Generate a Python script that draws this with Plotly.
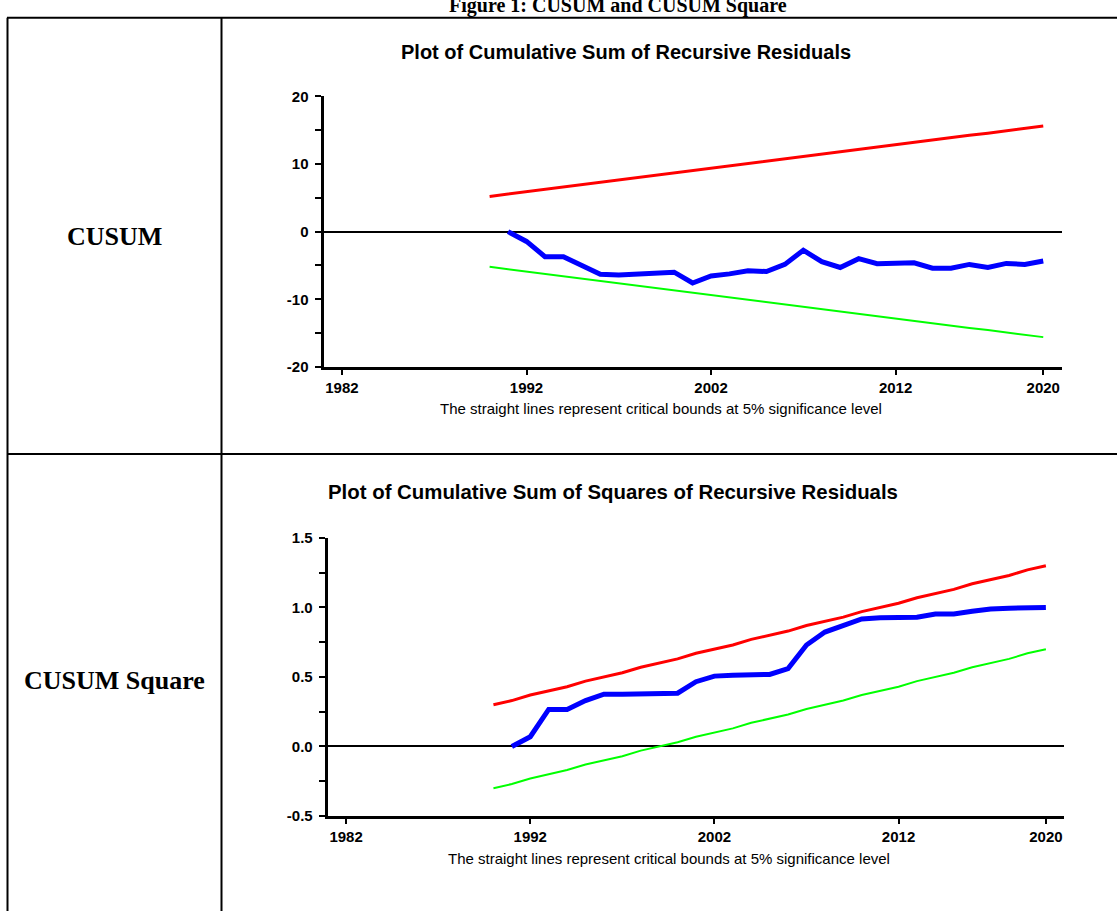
import plotly.graph_objects as go

# ---------------- data ----------------
rec_years = list(range(1991, 2021))
bound_years = list(range(1990, 2021))

cusum = [0.0, -1.45, -3.7, -3.7, -5.0, -6.3, -6.4, -6.25, -6.0, -6.0,
         -7.6, -6.55, -6.25, -5.8, -5.9, -4.85, -2.75, -4.45, -5.3, -4.0,
         -4.75, -4.6, -4.6, -5.4, -5.4, -4.85, -5.3, -4.7, -4.85, -4.35]
cusum_upper = [5.2, 5.55, 5.9, 6.25, 6.6, 6.9, 7.25, 7.6, 7.95, 8.3, 8.65,
               9.0, 9.35, 9.7, 10.05, 10.4, 10.75, 11.1, 11.45, 11.8, 12.15,
               12.5, 12.85, 13.2, 13.55, 13.9, 14.25, 14.55, 14.9, 15.25, 15.6]
cusum_lower = [-5.2, -5.55, -5.9, -6.25, -6.6, -6.9, -7.25, -7.6, -7.95, -8.3, -8.65,
               -9.0, -9.35, -9.7, -10.05, -10.4, -10.75, -11.1, -11.45, -11.8, -12.15,
               -12.5, -12.85, -13.2, -13.55, -13.9, -14.25, -14.55, -14.9, -15.25, -15.6]

cusumsq = [0.0, 0.07, 0.266, 0.266, 0.33, 0.376, 0.376, 0.376, 0.383, 0.383,
           0.466, 0.506, 0.513, 0.518, 0.518, 0.56, 0.73, 0.823, 0.866, 0.917,
           0.925, 0.929, 0.929, 0.953, 0.953, 0.972, 0.988, 0.995, 0.995, 1.0]
sq_upper = [0.30, 0.33, 0.37, 0.40, 0.43, 0.47, 0.50, 0.53, 0.57, 0.60, 0.63,
            0.67, 0.70, 0.73, 0.77, 0.80, 0.83, 0.87, 0.90, 0.93, 0.97,
            1.00, 1.03, 1.07, 1.10, 1.13, 1.17, 1.20, 1.23, 1.27, 1.30]
sq_lower = [-0.30, -0.27, -0.23, -0.20, -0.17, -0.13, -0.10, -0.07, -0.03, 0.00, 0.03,
            0.07, 0.10, 0.13, 0.17, 0.20, 0.23, 0.27, 0.30, 0.33, 0.37,
            0.40, 0.43, 0.47, 0.50, 0.53, 0.57, 0.60, 0.63, 0.67, 0.70]

x_ticks = [1982, 1992, 2002, 2012, 2020]
cusum_ticks = [-20, -10, 0, 10, 20]
sq_ticks = [-0.5, 0.0, 0.5, 1.0, 1.5]
sq_tick_text = ["-0.5", "0.0", "0.5", "1.0", "1.5"]

fig_title = "Figure 1: CUSUM and CUSUM Square"
row_labels = ["CUSUM", "CUSUM Square"]
chart_titles = ["Plot of Cumulative Sum of Recursive Residuals",
                "Plot of Cumulative Sum of Squares of Recursive Residuals"]
footnote = "The straight lines represent critical bounds at 5% significance level"

# ---------------- layout helpers ----------------
W, H = 1117, 911
def px(x):
    return x / W
def py(y):
    return 1 - y / H

SANS = "Liberation Sans, Arial, sans-serif"
SERIF = "Liberation Serif, Times New Roman, serif"

fig = go.Figure()

RED, GREEN, BLUE = "#FF0000", "#00FF00", "#0000FF"

fig.add_trace(go.Scatter(x=bound_years, y=cusum_upper, mode="lines",
                         line=dict(color=RED, width=3), xaxis="x", yaxis="y", showlegend=False))
fig.add_trace(go.Scatter(x=bound_years, y=cusum_lower, mode="lines",
                         line=dict(color=GREEN, width=2), xaxis="x", yaxis="y", showlegend=False))
fig.add_trace(go.Scatter(x=rec_years, y=cusum, mode="lines",
                         line=dict(color=BLUE, width=5), xaxis="x", yaxis="y", showlegend=False))

fig.add_trace(go.Scatter(x=bound_years, y=sq_upper, mode="lines",
                         line=dict(color=RED, width=3), xaxis="x2", yaxis="y2", showlegend=False))
fig.add_trace(go.Scatter(x=bound_years, y=sq_lower, mode="lines",
                         line=dict(color=GREEN, width=2), xaxis="x2", yaxis="y2", showlegend=False))
fig.add_trace(go.Scatter(x=rec_years, y=cusumsq, mode="lines",
                         line=dict(color=BLUE, width=5), xaxis="x2", yaxis="y2", showlegend=False))

tickfont = dict(family=SANS, size=15, color="black", weight="bold")

def xaxis(domain, anchor):
    return dict(domain=domain, anchor=anchor, range=[1981, 2021],
                showgrid=False, zeroline=False, showline=True, linecolor="black",
                linewidth=3, ticks="outside", ticklen=5, tickwidth=2, tickcolor="black",
                tickvals=x_ticks, tickfont=tickfont)

def yaxis(domain, anchor, rng, tv, tt, minor_dtick):
    return dict(domain=domain, anchor=anchor, range=rng,
                showgrid=False, zeroline=True, zerolinecolor="black", zerolinewidth=2,
                showline=True, linecolor="black", linewidth=3,
                ticks="outside", ticklen=6, tickwidth=2, tickcolor="black",
                tickvals=tv, ticktext=tt, tickfont=tickfont, ticklabelstandoff=3,
                minor=dict(ticks="outside", ticklen=6, tickwidth=2, tickcolor="black",
                           dtick=minor_dtick, tick0=0))

fig.update_layout(
    width=W, height=H, autosize=False,
    margin=dict(l=0, r=0, t=0, b=0),
    paper_bgcolor="white", plot_bgcolor="white",
    xaxis=xaxis([px(323.5), px(1061.7)], "y"),
    yaxis=yaxis([py(364.7), py(89)], "x", [-20, 20], cusum_ticks,
                [str(v) for v in cusum_ticks], 5),
    xaxis2=xaxis([px(327.7), px(1064.3)], "y2"),
    yaxis2=yaxis([py(822.3), py(539)], "x2", [-0.5, 1.5], sq_ticks, sq_tick_text, 0.25),
)

# table borders
line = dict(color="black", width=2)
TOP = 9
shapes = [
    dict(type="line", xref="paper", yref="paper", x0=px(7), x1=1.01, y0=py(TOP), y1=py(TOP), line=line),
    dict(type="line", xref="paper", yref="paper", x0=px(7), x1=1.01, y0=py(453.5), y1=py(453.5), line=line),
    dict(type="line", xref="paper", yref="paper", x0=px(7.5), x1=px(7.5), y0=py(TOP), y1=-0.01, line=line),
    dict(type="line", xref="paper", yref="paper", x0=px(221.5), x1=px(221.5), y0=py(TOP), y1=-0.01, line=line),
]
fig.update_layout(shapes=shapes)

ann = []
ann.append(dict(text=fig_title, x=px(618), y=py(10), xref="paper", yref="paper",
                xanchor="center", yanchor="bottom", showarrow=False,
                font=dict(family=SERIF, size=20, color="black", weight="bold")))
for lbl, yc in zip(row_labels, [232, 684]):
    ann.append(dict(text=lbl, x=px(114), y=py(yc), xref="paper", yref="paper",
                    xanchor="center", yanchor="middle", showarrow=False,
                    font=dict(family=SERIF, size=26, color="black", weight="bold")))
for t, xc, yc, fs in zip(chart_titles, [626, 613], [44, 492], [20, 20.4]):
    ann.append(dict(text=t, x=px(xc), y=py(yc), xref="paper", yref="paper",
                    xanchor="center", yanchor="middle", showarrow=False,
                    font=dict(family=SANS, size=fs, color="black", weight="bold")))
for xc, yc in zip([661, 669], [407, 866]):
    ann.append(dict(text=footnote, x=px(xc), y=py(yc), xref="paper", yref="paper",
                    xanchor="center", yanchor="middle", showarrow=False,
                    font=dict(family=SANS, size=15, color="black")))
fig.update_layout(annotations=ann)

fig.write_html("out.html", config={"displayModeBar": False},
               post_script="document.body.style.margin='0px';document.body.style.overflow='hidden';")
